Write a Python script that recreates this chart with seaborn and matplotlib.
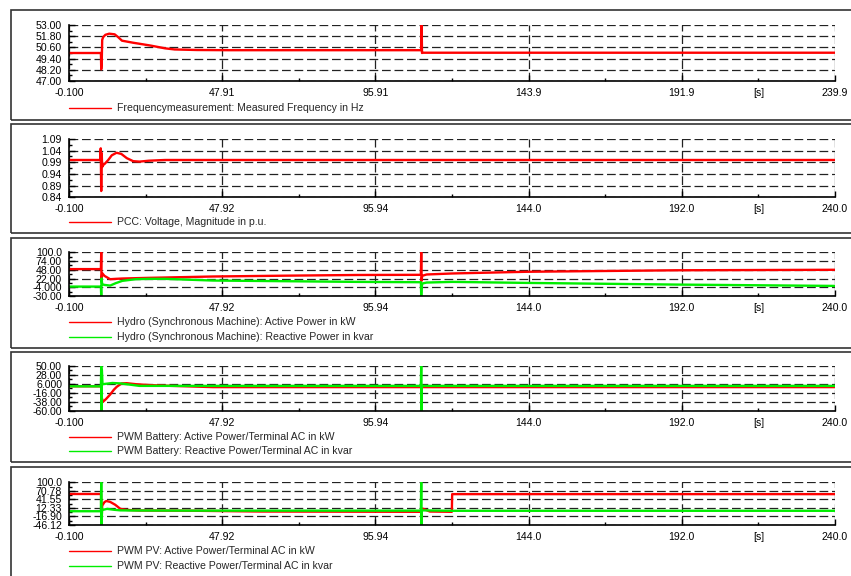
import numpy as np
import pandas as pd
import seaborn as sns
import matplotlib.pyplot as plt
from matplotlib.lines import Line2D
from matplotlib.patches import Rectangle

sns.set_style("white")
plt.rcParams['font.family'] = ['Liberation Sans', 'DejaVu Sans']

RED = "#ff0000"
GREEN = "#00ee00"

# ---- data (time in s) ----
# frequency measurement [Hz]
t_freq = [0, 9.9, 10.0, 10.15, 10.3, 10.6, 11.3, 12.5, 14.2, 15.3, 16.5, 20, 25.4, 30, 33,
          40, 50, 70, 90, 110.3, 110.4, 110.5, 110.7, 130, 239.9]
freq = [50.0, 50.0, 48.25, 49.0, 51.4, 51.7, 51.95, 52.07, 52.0, 51.7, 51.32, 51.1, 50.8, 50.5, 50.38,
        50.32, 50.3, 50.3, 50.3, 50.3, 53.0, 50.0, 50.03, 50.03, 50.03]

# PCC voltage [p.u.]
t_volt = [0, 9.7, 9.85, 10.0, 10.15, 10.3, 10.6, 11.2, 12.2, 13.3, 14.8, 16.3, 18, 20, 22, 25, 30, 240]
volt = [1.0, 1.0, 1.05, 0.867, 1.03, 0.97, 0.978, 0.985, 1.0, 1.02, 1.031, 1.026, 1.008, 0.995,
        0.993, 0.997, 1.0, 1.0]

# hydro machine [kW] / [kvar]
t_hyd = [0, 9.9, 10.0, 10.1, 10.3, 11.0, 12.8, 14.5, 16.6, 20.8, 25, 30, 45, 68, 90,
         110.2, 110.3, 110.4, 110.6, 112, 120, 143, 190, 240]
hyd_p = [50, 50, 100, 15, 38, 30, 20, 21, 22, 23, 24, 25, 28, 30.5, 32.5,
         33, 100, 15, 30, 34, 37, 42, 46.5, 48]
hyd_q = [-2, -2, -30, 22, 5, 3, 1, 8, 15, 20, 21, 21, 16, 14, 12,
         11, -30, -10, 7, 10, 12, 9, 4, 0]

# PWM battery [kW] / [kvar]
t_bat_p = [0, 9.95, 10.1, 10.5, 11.5, 12.8, 14.0, 14.9, 16.4, 18, 21, 25, 32, 45,
           110.3, 110.4, 110.6, 240]
bat_p = [0, 0, -25, -38, -31, -20, -8, -1, 7, 7.5, 5, 3, 1, -2,
         -2, 3, -2, -2]
t_bat_q = [0, 9.9, 10.0, 10.1, 10.2, 10.4, 11.4, 13.5, 16, 19, 22, 30,
           110.2, 110.3, 110.4, 110.5, 240]
bat_q = [0, 0, 50, -60, 40, 5, 6, 8, 7, 4, 1, 1,
         1, 50, -60, 1, 1]

# PWM PV [kW] / [kvar]
t_pv_p = [0, 9.95, 10.05, 10.3, 11.0, 11.6, 12.8, 14.4, 16, 18, 22, 40, 60,
          110.2, 110.4, 111, 113, 119.9, 120.0, 240]
pv_p = [60, 60, -46, 20, 32, 36, 33, 23, 9, 5.5, 3.5, 2.5, 0,
        -1, 10, 9, 0, -1, 59.5, 59.5]
t_pv_q = [0, 9.9, 10.0, 10.1, 10.25, 11.8, 14, 16, 20, 40,
          110.2, 110.3, 110.4, 110.5, 120, 240]
pv_q = [1, 1, 100, -46, 5, 9, 6, 4, 3.5, 3,
        3, 100, -46, 4, 2.5, 2.5]

# axis ticks
x_ticks_1 = [-0.1, 47.91, 95.91, 143.9, 191.9, 239.9]
x_labels_1 = ["-0.100", "47.91", "95.91", "143.9", "191.9", "239.9"]
x_ticks = [-0.1, 47.92, 95.94, 143.96, 191.98, 240.0]
x_labels = ["-0.100", "47.92", "95.94", "144.0", "192.0", "240.0"]

y_ticks = [
    [47.0, 48.2, 49.4, 50.6, 51.8, 53.0],
    [0.84, 0.89, 0.94, 0.99, 1.04, 1.09],
    [-30, -4, 22, 48, 74, 100],
    [-60, -38, -16, 6, 28, 50],
    [-46.12, -16.90, 12.33, 41.55, 70.78, 100.0],
]
y_labels = [
    ["47.00", "48.20", "49.40", "50.60", "51.80", "53.00"],
    ["0.84", "0.89", "0.94", "0.99", "1.04", "1.09"],
    ["-30.00", "-4.000", "22.00", "48.00", "74.00", "100.0"],
    ["-60.00", "-38.00", "-16.00", "6.000", "28.00", "50.00"],
    ["-46.12", "-16.90", "12.33", "41.55", "70.78", "100.0"],
]

legend_labels = [
    ["Frequencymeasurement: Measured Frequency in Hz"],
    ["PCC: Voltage, Magnitude in p.u."],
    ["Hydro (Synchronous Machine): Active Power in kW",
     "Hydro (Synchronous Machine): Reactive Power in kvar"],
    ["PWM Battery: Active Power/Terminal AC in kW",
     "PWM Battery: Reactive Power/Terminal AC in kvar"],
    ["PWM PV: Active Power/Terminal AC in kW",
     "PWM PV: Reactive Power/Terminal AC in kvar"],
]

series = [
    [(t_freq, freq, RED)],
    [(t_volt, volt, RED)],
    [(t_hyd, hyd_p, RED), (t_hyd, hyd_q, GREEN)],
    [(t_bat_p, bat_p, RED), (t_bat_q, bat_q, GREEN)],
    [(t_pv_p, pv_p, RED), (t_pv_q, pv_q, GREEN)],
]

# layout in pixels (851 x 576)
W, H = 851, 576
frames = [(10, 120), (124, 233), (238, 348), (352, 462), (467, 590)]
axes_y = [(25, 81), (139, 197.3), (252.3, 296), (365.7, 411), (482.3, 525)]
legend_y = [[108.3], [221.7], [322.3, 336.7], [437.3, 451], [550.7, 565.7]]
AX_X0, AX_X1 = 69, 835
FS = 7.6

fig = plt.figure(figsize=(W / 100, H / 100), dpi=100)

for i in range(5):
    fy0, fy1 = frames[i]
    fig.add_artist(Rectangle((11 / W, 1 - fy1 / H), (870 - 11) / W, (fy1 - fy0) / H,
                             transform=fig.transFigure, fill=False,
                             edgecolor="#333333", lw=1.2))
    top, bot = axes_y[i]
    ax = fig.add_axes([AX_X0 / W, 1 - bot / H, (AX_X1 - AX_X0) / W, (bot - top) / H])

    for t, v, c in series[i]:
        df = pd.DataFrame({"t": t, "v": v})
        sns.lineplot(data=df, x="t", y="v", ax=ax, color=c, lw=1.7,
                     estimator=None, sort=False, legend=False)

    if i == 0:
        xt, xl = x_ticks_1, x_labels_1
    else:
        xt, xl = x_ticks, x_labels
    ax.set_xlim(xt[0], xt[-1])
    ax.set_xticks(xt)
    ax.set_xticklabels(xl)
    mids = [(a + b) / 2 for a, b in zip(xt[:-1], xt[1:])]
    ax.set_xticks(mids, minor=True)
    ax.set_xticklabels(["", "", "", "", "[s]"], minor=True)

    yt = y_ticks[i]
    ax.set_ylim(yt[0], yt[-1])
    ax.set_yticks(yt)
    ax.set_yticklabels(y_labels[i])
    ax.set_yticks([(a + b) / 2 for a, b in zip(yt[:-1], yt[1:])], minor=True)

    ax.set_xlabel("")
    ax.set_ylabel("")
    ax.grid(True, which="major", color="#222222", ls=(0, (7, 3)), lw=0.9)
    for s in ["top", "right"]:
        ax.spines[s].set_visible(False)
    for s in ["left", "bottom"]:
        ax.spines[s].set_color("black")
        ax.spines[s].set_linewidth(1.2)
    ax.tick_params(which="major", direction="in", length=4, width=1, labelsize=FS,
                   pad=5, colors="black", left=True, bottom=True)
    ax.tick_params(which="minor", direction="in", length=2, width=1, labelsize=FS,
                   pad=5, colors="black", left=True, bottom=True)
    ax.set_facecolor("white")

    # legend rows
    for (t, v, c), lab, ly in zip(series[i], legend_labels[i], legend_y[i]):
        fig.add_artist(Line2D([69 / W, 111 / W], [1 - ly / H, 1 - ly / H],
                              transform=fig.transFigure, color=c, lw=1.0))
        fig.text(117 / W, 1 - ly / H, lab, fontsize=FS, va="center", ha="left")

fig.savefig("out.png", dpi=100, facecolor="white")
